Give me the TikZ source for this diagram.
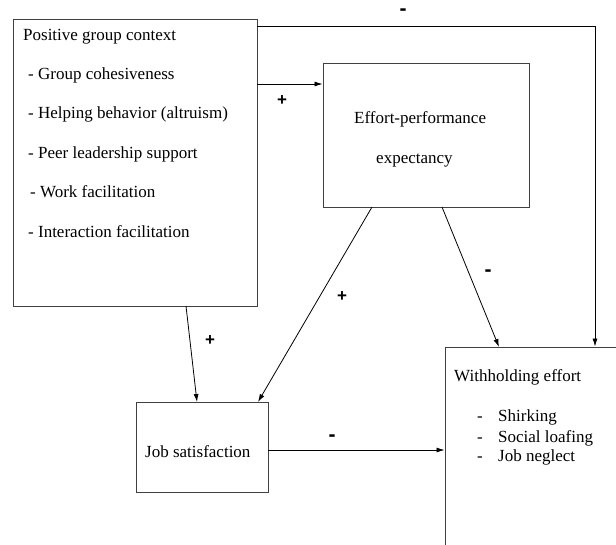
\documentclass[tikz,border=0pt]{standalone}
\usepackage{fontspec}
\setmainfont{Liberation Serif}
\newfontfamily\signfont{Liberation Sans}
\usetikzlibrary{arrows.meta,calc}
\begin{document}
\begin{tikzpicture}[x=1pt,y=-1pt,
  box/.style={draw=black!75,line width=0.9pt,inner sep=0pt},
  conn/.style={draw=black,line width=0.8pt},
  arr/.style={conn,-{Latex[length=8pt,width=5pt]}},
  txt/.style={anchor=base west,inner sep=0pt,font=\rmfamily\fontsize{17}{20}\selectfont},
  plus/.style={inner sep=0pt,font=\signfont\bfseries\fontsize{17}{17}\selectfont},
  minus/.style={inner sep=0pt,font=\signfont\bfseries\fontsize{21}{21}\selectfont}]
\useasboundingbox (0,0) rectangle (616,544);
% boxes
\node[box,minimum width=244pt,minimum height=287pt] (A) at (135,162.5) {};
\node[box,minimum width=206pt,minimum height=144pt] (E) at (426,135) {};
\node[box,minimum width=132pt,minimum height=90pt] (J) at (202,447) {};
\node[box,minimum width=200pt,minimum height=230pt] (W) at (545,462) {};
% texts
\node[txt] (a0) at (23,40) {Positive group context};
\node[txt] (a1) at (28,79) {- Group cohesiveness};
\node[txt] (a2) at (28,118) {- Helping behavior (altruism)};
\node[txt] (a3) at (28,158) {- Peer leadership support};
\node[txt] (a4) at (30,197) {- Work facilitation};
\node[txt] (a5) at (28,237) {- Interaction facilitation};
\node[txt] (e1) at (354,123) {Effort-performance};
\node[txt] (e2) at (376,163) {expectancy};
\node[txt] (j1) at (145,457) {Job satisfaction};
\node[txt] (w0) at (454,381) {Withholding effort};
\node[txt] (w1d) at (477,421) {-};
\node[txt] (w1) at (498,421) {Shirking};
\node[txt] (w2d) at (477,442) {-};
\node[txt] (w2) at (498,442) {Social loafing};
\node[txt] (w3d) at (477,461) {-};
\node[txt] (w3) at (498,461) {Job neglect};
% connector points
\coordinate (topA) at (257,26);
\coordinate (corner) at (595,26);
\coordinate (midA) at (257,84);
\coordinate (botA) at (186,306);
\coordinate (jsTop) at (197,402);
\coordinate (eBotL) at (372,207);
\coordinate (jsTopR) at (258,402);
\coordinate (eBotR) at (442,207);
\coordinate (wTopL) at (499,347);
\coordinate (jsR) at (268,450);
% connectors
\draw[arr] (topA) -- (corner) -- (corner |- W.north);
\draw[arr] (midA) -- (midA -| E.west);
\draw[arr] (botA) -- (jsTop);
\draw[arr] (eBotL) -- (jsTopR);
\draw[arr] (eBotR) -- (wTopL);
\draw[arr] (jsR) -- (jsR -| W.west);
% signs
\node[minus] (m1) at (403,12) {-};
\node[plus] (p1) at (282,101) {+};
\node[plus] (p2) at (342,297) {+};
\node[minus] (m2) at (488,273) {-};
\node[plus] (p3) at (210,341) {+};
\node[minus] (m3) at (332,438) {-};
\end{tikzpicture}
\end{document}
